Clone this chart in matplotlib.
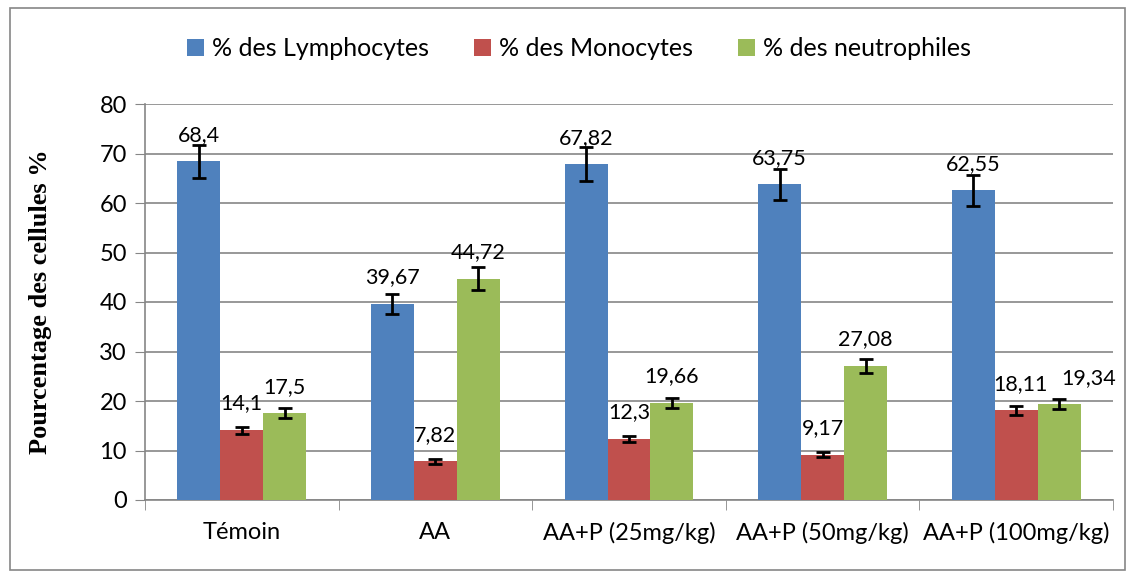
import matplotlib.pyplot as plt
import numpy as np
from matplotlib.patches import Rectangle

groups = ['Témoin', 'AA', 'AA+P (25mg/kg)', 'AA+P (50mg/kg)', 'AA+P (100mg/kg)']
series = ['% des Lymphocytes', '% des Monocytes', '% des neutrophiles']
lympho = [68.4, 39.67, 67.82, 63.75, 62.55]
mono = [14.1, 7.82, 12.3, 9.17, 18.11]
neutro = [17.5, 44.72, 19.66, 27.08, 19.34]
lympho_err = [3.4, 2.0, 3.4, 3.2, 3.2]
mono_err = [0.7, 0.5, 0.65, 0.5, 0.9]
neutro_err = [1.0, 2.3, 1.0, 1.4, 1.05]
colors = ['#4F81BD', '#C0504D', '#9BBB59']

plt.rcParams['font.family'] = ['Lato', 'DejaVu Sans']
fs = 17

fig = plt.figure(figsize=(11.33, 5.78), dpi=100)
ax = fig.add_axes([145 / 1133, 78 / 578, 968 / 1133, 396 / 578])

# outer frame like the spreadsheet chart border
fig.patches.append(Rectangle((10 / 1133, 8 / 578), 1115 / 1133, 562 / 578,
                             transform=fig.transFigure, fill=False,
                             edgecolor='#868686', linewidth=1.2))

x = np.arange(len(groups))
w = 0.222
data = [lympho, mono, neutro]
errs = [lympho_err, mono_err, neutro_err]
# nudge the two crowded labels of the last group apart (points)
nudge = {(1, 4): 3, (2, 4): 21}

for i, (vals, err) in enumerate(zip(data, errs)):
    pos = x + (i - 1) * w
    ax.bar(pos, vals, w, color=colors[i], label=series[i], zorder=3)
    ax.errorbar(pos, vals, yerr=err, fmt='none', ecolor='black',
                elinewidth=2, capsize=5, capthick=2, zorder=4)
    for j, (p, v) in enumerate(zip(pos, vals)):
        txt = ('%g' % v).replace('.', ',')
        ax.annotate(txt, (p, v), xytext=(nudge.get((i, j), 0), 12),
                    textcoords='offset points', ha='center', va='bottom',
                    fontsize=15.5, zorder=5, annotation_clip=False)

ax.set_ylim(0, 80)
ax.set_xlim(-0.5, 4.5)
ax.set_yticks(range(0, 81, 10))
ax.tick_params(axis='y', labelsize=fs, length=7, color='#868686', pad=6)
ax.set_xticks(x)
ax.set_xticklabels(groups, fontsize=fs)
ax.tick_params(axis='x', length=0, pad=16)
ax.set_xticks(np.arange(-0.5, 5, 1), minor=True)
ax.tick_params(axis='x', which='minor', length=7, color='#868686')
ax.yaxis.grid(True, color='#868686', linewidth=1.2, zorder=0)
ax.set_axisbelow(True)
for s in ['top', 'right']:
    ax.spines[s].set_visible(False)
for s in ['left', 'bottom']:
    ax.spines[s].set_color('#868686')
    ax.spines[s].set_linewidth(1.2)

ax.set_ylabel('Pourcentage des cellules %', fontsize=19, fontweight='bold',
              family='Liberation Serif', labelpad=34)

ax.legend(loc='center', bbox_to_anchor=(0.448, 1.14), ncol=3, frameon=False,
          fontsize=18, handlelength=0.7, handleheight=0.7, handletextpad=0.3,
          columnspacing=1.8)

fig.savefig('out.png', dpi=100)
